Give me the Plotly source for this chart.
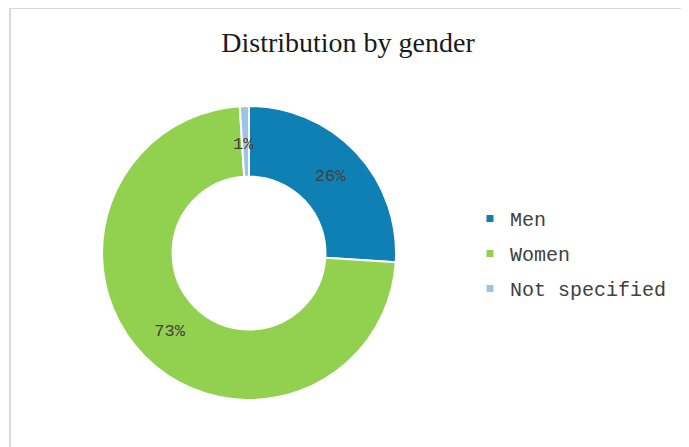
import math
import plotly.graph_objects as go

# data
labels = ["Men", "Women", "Not specified"]
values = [26, 73, 1]
colors = ["#0F80B3", "#92D050", "#9DC3E6"]

# page body adds 8px margin, so the figure is a bit smaller than the window
W, H = 681, 439
cx, cy, r = 241, 245, 147
hole = 0.52

fig = go.Figure()

# donut
fig.add_trace(go.Pie(
    labels=labels,
    values=values,
    hole=hole,
    sort=False,
    direction="clockwise",
    rotation=0,
    marker=dict(colors=colors, line=dict(color="white", width=2)),
    texttemplate=["%{percent:.0%}", "%{percent:.0%}", ""],
    textposition="inside",
    insidetextorientation="horizontal",
    textfont=dict(family="Liberation Mono", size=17, color="#404040"),
    showlegend=False,
    hoverinfo="label+percent",
    domain=dict(x=[(cx - r) / W, (cx + r) / W], y=[(H - cy - r) / H, (H - cy + r) / H]),
))

# legend entries (small square markers)
for lab, col in zip(labels, colors):
    fig.add_trace(go.Scatter(
        x=[None], y=[None], mode="markers", name=lab, legendgroup=lab,
        marker=dict(symbol="square", size=7, color=col),
    ))

# label for the tiny slice, placed at its mid angle
total = sum(values)
start = sum(values[:2]) / total
mid = (start + values[2] / total / 2) * 2 * math.pi
rmid = r * (1 + hole) / 2
px = cx + rmid * math.sin(mid)
py = cy - rmid * math.cos(mid)
fig.add_annotation(
    x=px / W, y=1 - py / H, xref="paper", yref="paper",
    text=f"{round(values[2] / total * 100)}%", showarrow=False,
    yshift=8, xshift=-2,
    font=dict(family="Liberation Mono", size=17, color="#404040"),
)

# chart border
fig.add_shape(type="rect", xref="paper", yref="paper",
              x0=2 / W, x1=679 / W, y0=-0.1, y1=1,
              line=dict(color="#D9D9D9", width=2))

fig.update_layout(
    width=W, height=H,
    margin=dict(l=0, r=0, t=0, b=0),
    paper_bgcolor="white",
    plot_bgcolor="white",
    title=dict(text="Distribution by gender", x=340 / W, xanchor="center",
               y=1 - 34 / H, yanchor="middle",
               font=dict(family="Liberation Serif", size=28, color="#1A1A1A")),
    xaxis=dict(visible=False),
    yaxis=dict(visible=False),
    legend=dict(x=462 / W, y=1 - 191 / H, xanchor="left", yanchor="top",
                tracegroupgap=6, itemwidth=30,
                font=dict(family="Liberation Mono", size=20, color="#404040")),
)

fig.write_html("out.html")
